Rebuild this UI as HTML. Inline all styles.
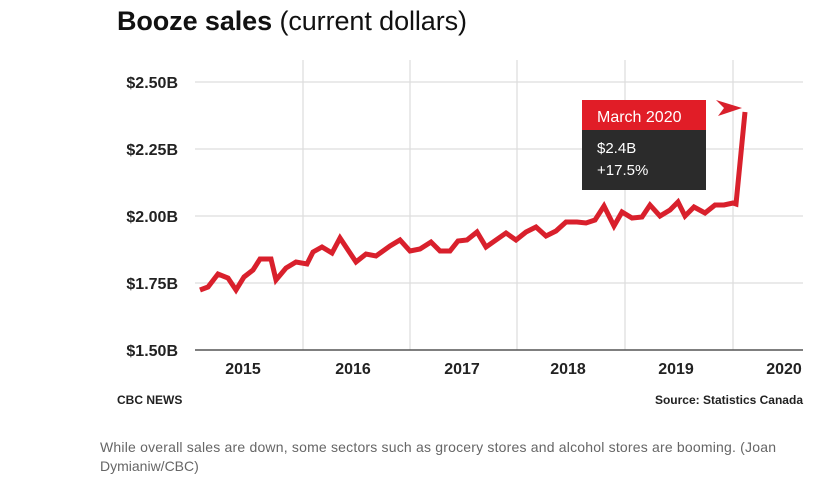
<!DOCTYPE html>
<html><head><meta charset="utf-8"><style>
body{margin:0;background:#fff;width:827px;height:484px;overflow:hidden;font-family:"Liberation Sans",sans-serif}
</style></head><body>
<svg width="827" height="484" xmlns="http://www.w3.org/2000/svg" style="position:absolute;left:0;top:0">
<text x="117" y="30" font-size="27" font-weight="bold" fill="#111" textLength="350">Booze sales <tspan font-weight="normal">(current dollars)</tspan></text>
<g stroke="#ddd" stroke-width="1.2">
<line x1="195" y1="82" x2="803" y2="82"/><line x1="195" y1="149" x2="803" y2="149"/><line x1="195" y1="216" x2="803" y2="216"/><line x1="195" y1="283" x2="803" y2="283"/>
<line x1="303" y1="60" x2="303" y2="350"/><line x1="410" y1="60" x2="410" y2="350"/><line x1="517" y1="60" x2="517" y2="350"/><line x1="625" y1="60" x2="625" y2="350"/><line x1="733" y1="60" x2="733" y2="350"/>
</g>
<line x1="195" y1="350" x2="803" y2="350" stroke="#555" stroke-width="1.5"/>
<g font-size="16" font-weight="bold" fill="#222" text-anchor="end">
<text x="178" y="88">$2.50B</text><text x="178" y="155">$2.25B</text><text x="178" y="222">$2.00B</text><text x="178" y="289">$1.75B</text><text x="178" y="356">$1.50B</text>
</g>
<g font-size="16" font-weight="bold" fill="#222" text-anchor="middle">
<text x="243" y="374">2015</text><text x="353" y="374">2016</text><text x="462" y="374">2017</text><text x="568" y="374">2018</text><text x="676" y="374">2019</text><text x="784" y="374">2020</text>
</g>
<polyline fill="none" stroke="#d9202c" stroke-width="5" stroke-linejoin="miter" points="200,290 208,287 218,274 228,278 236,290 244,277 253,270 260,259 271,259 276,280 286,268 296,262 307,264 313,252 322,247 332,253 340,238 356,262 366,254 376,256 390,246 400,240 410,251 420,249 431,242 440,251 450,251 458,241 467,240 477,232 486,247 496,240 506,233 516,240 526,232 536,227 546,236 556,231 566,222 577,222 586,223 595,220 604,206 614,226 622,212 632,218 642,217 650,205 660,216 670,210 678,202 685,216 694,207 705,213 715,205 724,205 733,203 736,204 745,112"/>
<polygon points="716,100 742,108 718,116 724,108" fill="#d9202c"/>
<rect x="582" y="100" width="124" height="30" fill="#e11d27"/>
<rect x="582" y="130" width="124" height="60" fill="#2b2b2b"/>
<text x="597" y="122" font-size="16" fill="#fff">March 2020</text>
<text x="597" y="153" font-size="15" fill="#fff">$2.4B</text>
<text x="597" y="175" font-size="15" fill="#fff">+17.5%</text>
<text x="117" y="404" font-size="12" font-weight="bold" fill="#222">CBC NEWS</text>
<text x="803" y="404" font-size="12" font-weight="bold" fill="#222" text-anchor="end">Source: Statistics Canada</text>
<text x="100" y="452" font-size="14" fill="#666" textLength="676">While overall sales are down, some sectors such as grocery stores and alcohol stores are booming. (Joan</text>
<text x="100" y="471" font-size="14" fill="#666">Dymianiw/CBC)</text>
</svg>
</body></html>
